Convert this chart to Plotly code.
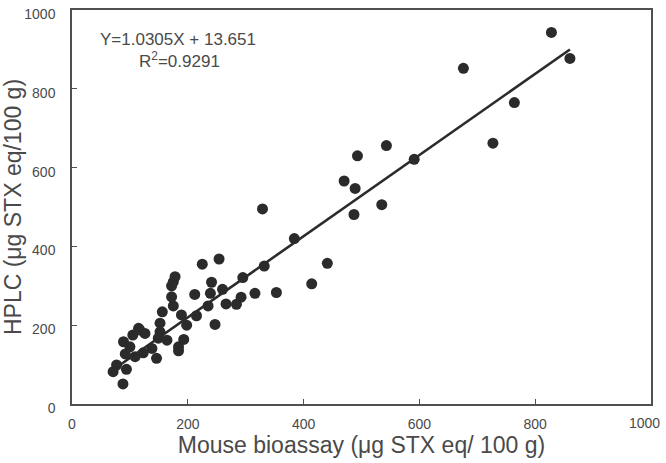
import plotly.graph_objects as go

# Mouse bioassay (x) vs HPLC (y), µg STX eq/100 g
mba = [828, 860, 676, 764, 727, 543, 493, 591, 470, 489, 535, 487, 329, 384, 332,
       441, 414, 316, 353, 225, 254, 178, 175, 241, 295, 212, 239, 260, 172, 172,
       292, 266, 284, 235, 175, 156, 189, 215, 152, 198, 247, 115, 126, 105, 152,
       89, 100, 149, 164, 193, 184, 184, 138, 123, 109, 92, 146, 77, 71, 94, 88, 117]
hplc = [943, 877, 852, 765, 662, 656, 630, 621, 566, 547, 506, 481, 495, 420, 350,
        357, 305, 281, 283, 355, 368, 323, 310, 309, 321, 278, 281, 291, 300, 272,
        271, 254, 253, 249, 249, 234, 226, 224, 205, 200, 202, 192, 179, 175, 183,
        158, 145, 167, 162, 164, 145, 135, 141, 130, 120, 127, 116, 99, 82, 88, 51, 188]

slope = 1.0305
intercept = 13.651
r2 = 0.9291

tick_vals = [0, 200, 400, 600, 800, 1000]
tick_text = ["0", "200", "400", "600", "800", "1000"]

fit_x = [min(mba), max(mba)]
fit_y = [slope * v + intercept for v in fit_x]

dark = "#2b2b2b"
axis_col = "#505050"
txt_col = "#4a4a4a"
font_family = "Liberation Sans, Arial, sans-serif"

fig = go.Figure()
fig.add_trace(go.Scatter(x=mba, y=hplc, mode="markers",
                         marker=dict(size=11, color=dark, line=dict(width=0)),
                         showlegend=False))
fig.add_trace(go.Scatter(x=fit_x, y=fit_y, mode="lines",
                         line=dict(color=dark, width=2.6), showlegend=False))

fig.add_annotation(x=45, y=926, xref="x", yref="y", xanchor="left", yanchor="middle",
                   text=f"Y={slope}X + {intercept}", showarrow=False,
                   font=dict(size=17, color=txt_col, family=font_family))
fig.add_annotation(x=112, y=873, xref="x", yref="y", xanchor="left", yanchor="middle",
                   text=f"R<sup>2</sup>={r2}", showarrow=False,
                   font=dict(size=17, color=txt_col, family=font_family))

# last x tick label would overflow the page edge; draw it shifted inward
x_tick_text = tick_text[:-1] + [""]
fig.add_annotation(x=tick_vals[-1], y=0, xref="x", yref="y", xanchor="center",
                   yanchor="top", xshift=-7, yshift=-9, text=tick_text[-1],
                   showarrow=False, font=dict(size=14, color=txt_col, family=font_family))

axis_common = dict(range=[0, 1000], tickvals=tick_vals,
                   ticks="inside", ticklen=5, tickwidth=1.2, tickcolor=axis_col,
                   showline=True, linecolor=axis_col, linewidth=1.5, mirror=True,
                   showgrid=False, zeroline=False, automargin=False,
                   tickfont=dict(size=14, color=txt_col, family=font_family))

fig.update_xaxes(**axis_common, ticktext=x_tick_text,
                 title=dict(text="Mouse bioassay (μg STX eq/ 100 g)", standoff=6,
                            font=dict(size=23, color=txt_col, family=font_family)),
                 ticklabelstandoff=6)
fig.update_yaxes(**axis_common, ticktext=tick_text,
                 title=dict(text="HPLC (μg STX eq/100 g)", standoff=6,
                            font=dict(size=23, color=txt_col, family=font_family)),
                 ticklabelstandoff=12, ticklabelshift=4)

fig.update_layout(width=666, height=463, margin=dict(l=72, r=15, t=10, b=59),
                  plot_bgcolor="white", paper_bgcolor="white")

fig.write_html("out.html")
